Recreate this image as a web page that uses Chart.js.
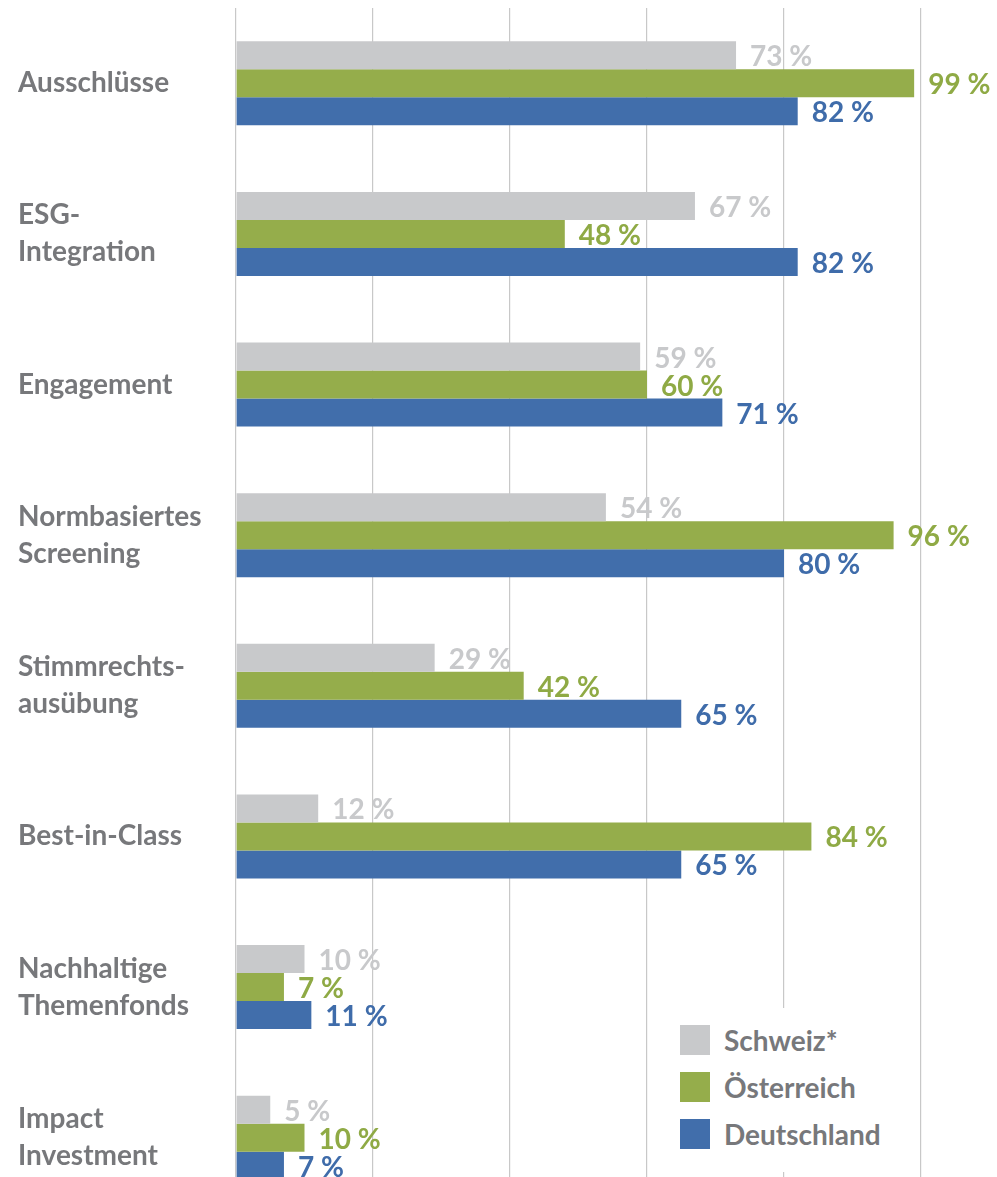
<!DOCTYPE html>
<html lang="de">
<head>
    <meta charset="UTF-8">
    <title>Nachhaltige Anlagestrategien</title>
    <script src="https://cdn.jsdelivr.net/npm/chart.js"></script>
    <style>
        body {
            margin: 0;
            padding: 0;
            background: #ffffff;
            overflow: hidden;
        }
        .wrap {
            position: relative;
            width: 997px;
            height: 1177px;
            overflow: hidden;
        }
        #legende {
            position: absolute;
            left: 652px;
            top: 1008px;
            width: 266px;
            height: 164px;
            background: #ffffff;
            font-family: 'Lato', sans-serif;
            font-weight: bold;
            font-size: 28px;
            color: #77787b;
        }
        .eintrag {
            position: absolute;
            left: 28px;
            height: 30px;
            display: flex;
            align-items: center;
        }
        .eintrag span.box {
            width: 30px;
            height: 30px;
            margin-right: 14px;
        }
    </style>
</head>
<body>
<div class="wrap">
    <canvas id="chart1" width="997" height="1215"></canvas>
    <div id="legende"></div>
</div>
<script>
    var kategorien = ['Ausschlüsse', ['ESG-', 'Integration'], 'Engagement', ['Normbasiertes', 'Screening'],
        ['Stimmrechts-', 'ausübung'], 'Best-in-Class', ['Nachhaltige', 'Themenfonds'], ['Impact', 'Investment']];
    var schweiz = [73, 67, 59, 54, 29, 12, 10, 5];
    var oesterreich = [99, 48, 60, 96, 42, 84, 7, 10];
    var deutschland = [82, 82, 71, 80, 65, 65, 11, 7];
    var serien = ['Schweiz*', 'Österreich', 'Deutschland'];
    var xTicks = [0, 20, 40, 60, 80, 100];

    var farben = ['#c8c9cb', '#95ad4b', '#416eab'];
    var textFarben = ['#c8c9cb', '#8faa45', '#3f6caa'];

    // Werte-Beschriftung hinter jedem Balken
    var wertePlugin = {
        id: 'werte',
        afterDatasetsDraw: function (chart) {
            var ctx = chart.ctx;
            ctx.save();
            ctx.font = 'bold 28px Lato';
            ctx.textAlign = 'left';
            ctx.textBaseline = 'middle';
            chart.data.datasets.forEach(function (ds, i) {
                var meta = chart.getDatasetMeta(i);
                ctx.fillStyle = textFarben[i];
                meta.data.forEach(function (bar, j) {
                    ctx.fillText(ds.data[j] + ' %', bar.x + 14, bar.y + 2);
                });
            });
            ctx.restore();
        }
    };

    var ctx1 = document.getElementById('chart1').getContext('2d');
    var chart1 = new Chart(ctx1, {
        type: 'bar',
        data: {
            labels: kategorien,
            datasets: [
                { label: serien[0], data: schweiz, backgroundColor: farben[0] },
                { label: serien[1], data: oesterreich, backgroundColor: farben[1] },
                { label: serien[2], data: deutschland, backgroundColor: farben[2] }
            ]
        },
        options: {
            indexAxis: 'y',
            responsive: false,
            animation: false,
            categoryPercentage: 0.558,
            barPercentage: 1,
            layout: {
                padding: { left: 18, right: 76, top: 8, bottom: 2 }
            },
            plugins: {
                legend: { display: false },
                tooltip: { enabled: false }
            },
            scales: {
                x: {
                    min: 0,
                    max: 100,
                    afterBuildTicks: function (scale) {
                        scale.ticks = xTicks.map(function (v) { return { value: v }; });
                    },
                    afterFit: function (scale) {
                        scale.height = 0;
                        scale.paddingLeft = 0;
                        scale.paddingRight = 0;
                    },
                    ticks: { display: false },
                    grid: { color: '#c8c8c8', lineWidth: 1.2, drawTicks: false },
                    border: { display: false }
                },
                y: {
                    afterFit: function (scale) {
                        scale.width = 218;
                        scale.paddingTop = 0;
                        scale.paddingBottom = 0;
                    },
                    ticks: {
                        crossAlign: 'far',
                        color: '#77787b',
                        font: { family: 'Lato', weight: 'bold', size: 28, lineHeight: 1.32 }
                    },
                    grid: { display: false },
                    border: { display: false }
                }
            }
        },
        plugins: [wertePlugin]
    });

    // Legende unten rechts
    var legende = document.getElementById('legende');
    serien.forEach(function (name, i) {
        var e = document.createElement('div');
        e.className = 'eintrag';
        e.style.top = (17 + i * 47) + 'px';
        e.innerHTML = '<span class="box" style="background:' + farben[i] + '"></span>' + name;
        legende.appendChild(e);
    });
</script>
</body>
</html>
